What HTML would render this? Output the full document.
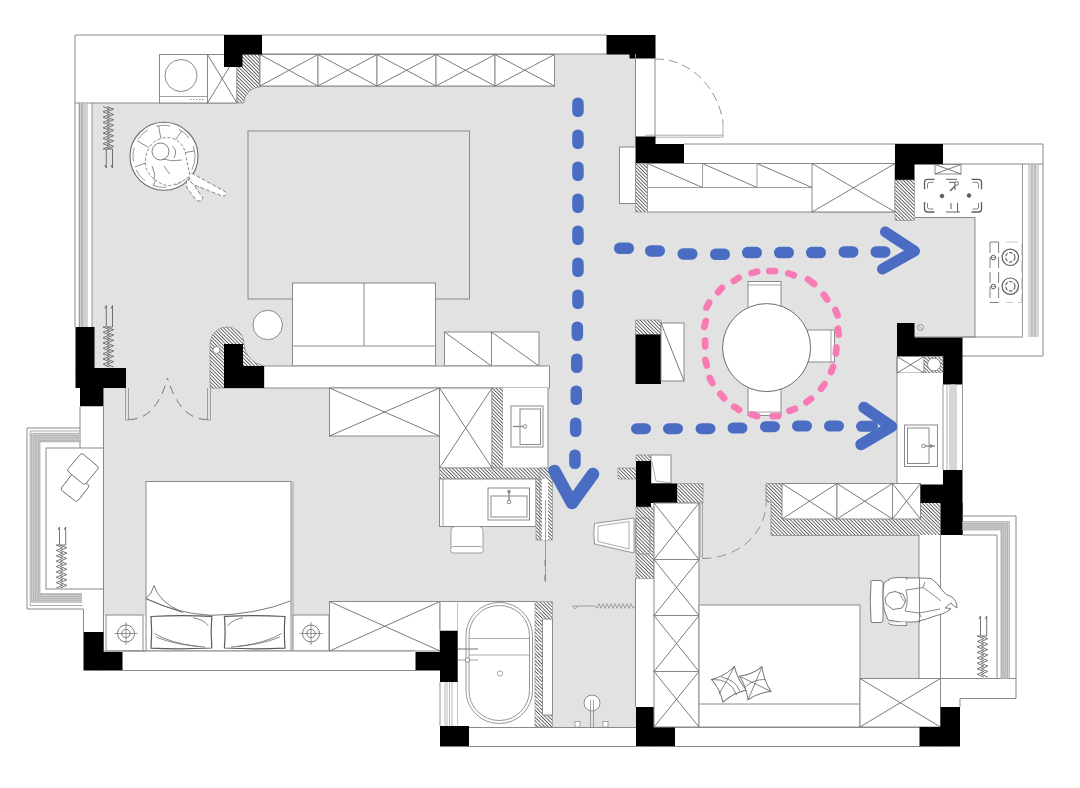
<!DOCTYPE html>
<html><head><meta charset="utf-8"><title>Floor plan</title>
<style>
html,body{margin:0;padding:0;background:#fff;}
body{width:1080px;height:788px;overflow:hidden;font-family:"Liberation Sans",sans-serif;}
svg{display:block;}
</style></head><body>
<svg width="1080" height="788" viewBox="0 0 1080 788">
<defs>
<pattern id="hatch" width="2.5" height="2.5" patternUnits="userSpaceOnUse" patternTransform="rotate(-45)">
<line x1="1.25" y1="0" x2="1.25" y2="2.5" stroke="#555" stroke-width="0.9"/>
</pattern>
</defs>
<rect width="1080" height="788" fill="#fff"/>
<rect x="92" y="103" width="168" height="285" fill="#e2e2e2"/>
<rect x="236" y="86" width="400" height="302" fill="#e2e2e2"/>
<rect x="554.5" y="54" width="81.0" height="36" fill="#e2e2e2"/>
<rect x="635" y="212" width="262" height="272" fill="#e2e2e2"/>
<rect x="895" y="217.5" width="80" height="119.5" fill="#e2e2e2"/>
<rect x="552" y="388" width="84" height="339" fill="#e2e2e2"/>
<rect x="104" y="388" width="448" height="214" fill="#e2e2e2"/>
<rect x="104" y="600" width="226" height="15.5" fill="#e2e2e2"/>
<rect x="699" y="483" width="220" height="196" fill="#e2e2e2"/>
<rect x="760" y="500" width="15" height="40" fill="#e2e2e2"/>
<path d="M75,327 V35 H606.5 M75,103 H236 M262,54 H606.5" fill="none" stroke="#8a8a8a" stroke-width="1.0" />
<line x1="79.3" y1="103" x2="79.3" y2="327" stroke="#8a8a8a" stroke-width="0.7" />
<line x1="82" y1="103" x2="82" y2="327" stroke="#8a8a8a" stroke-width="0.7" />
<line x1="87" y1="103" x2="87" y2="327" stroke="#8a8a8a" stroke-width="0.7" />
<line x1="92" y1="103" x2="92" y2="327" stroke="#8a8a8a" stroke-width="0.9" />
<rect x="79.8" y="103.4" width="7.2" height="223.6" fill="#d0d0d0"/>
<line x1="79.3" y1="103" x2="79.3" y2="327" stroke="#8a8a8a" stroke-width="0.7" />
<line x1="82" y1="103" x2="82" y2="327" stroke="#8a8a8a" stroke-width="0.7" />
<rect x="159.5" y="54.5" width="48.0" height="48.5" fill="#fff" stroke="#8a8a8a" stroke-width="1.0" />
<line x1="159.5" y1="96.5" x2="207.5" y2="96.5" stroke="#8a8a8a" stroke-width="0.8" />
<line x1="190" y1="99.5" x2="205" y2="99.5" stroke="#8a8a8a" stroke-width="1" stroke-dasharray="1.5 1.5"/>
<circle cx="181" cy="75.5" r="16" fill="#fff" stroke="#8a8a8a" stroke-width="1.0" />
<rect x="207.5" y="54.5" width="29.5" height="48.5" fill="#fff" stroke="#8a8a8a" stroke-width="1.0" />
<line x1="207.5" y1="54.5" x2="237" y2="103" stroke="#6c6c6c" stroke-width="0.9" />
<line x1="207.5" y1="103" x2="237" y2="54.5" stroke="#6c6c6c" stroke-width="0.9" />
<path d="M237,54.5 H260 V87 A16,16 0 0 0 244,103 H237 Z" fill="#fff" stroke="none" stroke-width="1.0" />
<path d="M237,54.5 H260 V87 A16,16 0 0 0 244,103 H237 Z" fill="url(#hatch)" stroke="#8a8a8a" stroke-width="0.7" />
<rect x="260" y="54.5" width="294.5" height="31.5" fill="#fff" stroke="#8a8a8a" stroke-width="1.0" />
<rect x="260" y="54.5" width="58" height="31.5" fill="#fff" stroke="#8a8a8a" stroke-width="1.0" />
<line x1="260" y1="54.5" x2="318" y2="86" stroke="#6c6c6c" stroke-width="0.9" />
<line x1="260" y1="86" x2="318" y2="54.5" stroke="#6c6c6c" stroke-width="0.9" />
<rect x="318" y="54.5" width="59" height="31.5" fill="#fff" stroke="#8a8a8a" stroke-width="1.0" />
<line x1="318" y1="54.5" x2="377" y2="86" stroke="#6c6c6c" stroke-width="0.9" />
<line x1="318" y1="86" x2="377" y2="54.5" stroke="#6c6c6c" stroke-width="0.9" />
<rect x="377" y="54.5" width="59" height="31.5" fill="#fff" stroke="#8a8a8a" stroke-width="1.0" />
<line x1="377" y1="54.5" x2="436" y2="86" stroke="#6c6c6c" stroke-width="0.9" />
<line x1="377" y1="86" x2="436" y2="54.5" stroke="#6c6c6c" stroke-width="0.9" />
<rect x="436" y="54.5" width="59" height="31.5" fill="#fff" stroke="#8a8a8a" stroke-width="1.0" />
<line x1="436" y1="54.5" x2="495" y2="86" stroke="#6c6c6c" stroke-width="0.9" />
<line x1="436" y1="86" x2="495" y2="54.5" stroke="#6c6c6c" stroke-width="0.9" />
<rect x="495" y="54.5" width="59.5" height="31.5" fill="#fff" stroke="#8a8a8a" stroke-width="1.0" />
<line x1="495" y1="54.5" x2="554.5" y2="86" stroke="#6c6c6c" stroke-width="0.9" />
<line x1="495" y1="86" x2="554.5" y2="54.5" stroke="#6c6c6c" stroke-width="0.9" />
<rect x="224" y="35" width="38" height="19.5" fill="#000"/>
<rect x="224" y="54" width="18.5" height="13" fill="#000"/>
<rect x="606.5" y="35" width="49.0" height="19.5" fill="#000"/>
<rect x="629.5" y="54" width="26.0" height="4.5" fill="#000"/>
<path d="M635.5,54 V137 M655,58 V137" fill="none" stroke="#8a8a8a" stroke-width="1.0" />
<path d="M645,135.2 H723 M655,137.2 H723 M723,121 V137" fill="none" stroke="#8a8a8a" stroke-width="0.7" />
<path d="M655,59 A68,77 0 0 1 723,122" fill="none" stroke="#8a8a8a" stroke-width="0.9" stroke-dasharray="9 5"/>
<rect x="635.5" y="136.5" width="20.0" height="27.0" fill="#000"/>
<rect x="655" y="144" width="29" height="19.5" fill="#000"/>
<path d="M684,144 H1043 V356 H962.5 M684,163.5 H895 M943,164 H1043 M962.5,337 H1022.5" fill="none" stroke="#8a8a8a" stroke-width="1.0" />
<line x1="1022.5" y1="164" x2="1022.5" y2="337" stroke="#8a8a8a" stroke-width="0.9" />
<line x1="1029" y1="164" x2="1029" y2="337" stroke="#8a8a8a" stroke-width="0.7" />
<line x1="1032" y1="164" x2="1032" y2="337" stroke="#8a8a8a" stroke-width="0.7" />
<line x1="1035" y1="164" x2="1035" y2="337" stroke="#8a8a8a" stroke-width="0.7" />
<line x1="1038" y1="164" x2="1038" y2="337" stroke="#8a8a8a" stroke-width="0.7" />
<rect x="1029.4" y="164.4" width="8.4" height="172.4" fill="#d6d6d6"/>
<line x1="1032" y1="164" x2="1032" y2="337" stroke="#8a8a8a" stroke-width="0.6" />
<line x1="1035" y1="164" x2="1035" y2="337" stroke="#8a8a8a" stroke-width="0.6" />
<line x1="975" y1="217.5" x2="975" y2="337" stroke="#8a8a8a" stroke-width="1.0" />
<line x1="914.5" y1="217.5" x2="975" y2="217.5" stroke="#8a8a8a" stroke-width="1.0" />
<line x1="914" y1="337" x2="975" y2="337" stroke="#8a8a8a" stroke-width="1.0" />
<rect x="619.5" y="147" width="16.0" height="56.5" fill="#fff" stroke="#8a8a8a" stroke-width="1.0" />
<rect x="647.5" y="163.5" width="247.5" height="48.5" fill="#fff" stroke="#8a8a8a" stroke-width="1.0" />
<rect x="635.5" y="163.5" width="12.0" height="48.5" fill="#fff"/>
<rect x="635.5" y="163.5" width="12.0" height="48.5" fill="url(#hatch)" stroke="#8a8a8a" stroke-width="0.6"/>
<line x1="647.5" y1="187.5" x2="812" y2="187.5" stroke="#8a8a8a" stroke-width="0.8" />
<line x1="702.5" y1="163.5" x2="702.5" y2="187.5" stroke="#8a8a8a" stroke-width="0.8" />
<line x1="647.5" y1="163.5" x2="702.5" y2="187.5" stroke="#6c6c6c" stroke-width="0.9" />
<line x1="757" y1="163.5" x2="757" y2="187.5" stroke="#8a8a8a" stroke-width="0.8" />
<line x1="702.5" y1="163.5" x2="757" y2="187.5" stroke="#6c6c6c" stroke-width="0.9" />
<line x1="757" y1="163.5" x2="812" y2="187.5" stroke="#6c6c6c" stroke-width="0.9" />
<rect x="812" y="163.5" width="83" height="48.5" fill="#fff" stroke="#8a8a8a" stroke-width="1.0" />
<line x1="812" y1="163.5" x2="895" y2="212" stroke="#6c6c6c" stroke-width="0.9" />
<line x1="812" y1="212" x2="895" y2="163.5" stroke="#6c6c6c" stroke-width="0.9" />
<rect x="895" y="144" width="48" height="20.5" fill="#000"/>
<rect x="895" y="164" width="19.5" height="16" fill="#000"/>
<rect x="895" y="180" width="19.5" height="40.5" fill="#fff"/>
<rect x="895" y="180" width="19.5" height="40.5" fill="url(#hatch)" stroke="#8a8a8a" stroke-width="0.6"/>
<rect x="935" y="164.5" width="26" height="9.5" fill="#fff" stroke="#8a8a8a" stroke-width="1.0" />
<line x1="935" y1="164.5" x2="961" y2="174" stroke="#6c6c6c" stroke-width="0.9" />
<line x1="935" y1="174" x2="961" y2="164.5" stroke="#6c6c6c" stroke-width="0.9" />
<path d="M934.5,179.3 H927.5 Q924.5,179.3 924.5,182.3 V189.3" fill="none" stroke="#5e5e5e" stroke-width="1.3" />
<path d="M971.5,179.3 H978.5 Q981.5,179.3 981.5,182.3 V189.3" fill="none" stroke="#5e5e5e" stroke-width="1.3" />
<path d="M934.5,212 H927.5 Q924.5,212 924.5,209 V202" fill="none" stroke="#5e5e5e" stroke-width="1.3" />
<path d="M971.5,212 H978.5 Q981.5,212 981.5,209 V202" fill="none" stroke="#5e5e5e" stroke-width="1.3" />
<path d="M933.5,182.3 H929.5 Q927.5,182.3 927.5,184.3 V188.3" fill="none" stroke="#5e5e5e" stroke-width="0.8" />
<path d="M972.5,182.3 H976.5 Q978.5,182.3 978.5,184.3 V188.3" fill="none" stroke="#5e5e5e" stroke-width="0.8" />
<path d="M933.5,209 H929.5 Q927.5,209 927.5,207 V203" fill="none" stroke="#5e5e5e" stroke-width="0.8" />
<path d="M972.5,209 H976.5 Q978.5,209 978.5,207 V203" fill="none" stroke="#5e5e5e" stroke-width="0.8" />
<path d="M946,179.3 H957 M949,182.3 H955 M955,182.3 V190 M946,212 H960 M957.5,212 V203 M951,209 V203" fill="none" stroke="#5e5e5e" stroke-width="1.0" />
<circle cx="942" cy="196" r="1.8" fill="#5e5e5e" stroke="#5e5e5e" stroke-width="1.0" />
<circle cx="969" cy="195.5" r="1.8" fill="#5e5e5e" stroke="#5e5e5e" stroke-width="1.0" />
<line x1="950" y1="191" x2="955" y2="186" stroke="#5e5e5e" stroke-width="1.4" />
<circle cx="956.5" cy="183.5" r="1.8" fill="#fff" stroke="#5e5e5e" stroke-width="1.0" />
<path d="M990,242 V302.5 M998.6,242 V302.5 M990,242 H998.6 M990,302.5 H998.6" fill="none" stroke="#5e5e5e" stroke-width="0.8" stroke-dasharray="11 4"/>
<path d="M1006,242 H1021.7 V302.5 H1006" fill="none" stroke="#bbb" stroke-width="0.8" stroke-dasharray="12 5"/>
<circle cx="1010.3" cy="257.3" r="8.2" fill="#fff" stroke="#5e5e5e" stroke-width="1.2" />
<circle cx="1010.3" cy="257.3" r="4.7" fill="none" stroke="#5e5e5e" stroke-width="1.1" stroke-dasharray="3.5 1.6"/>
<circle cx="993.3" cy="257.6" r="2.3" fill="#fff" stroke="#5e5e5e" stroke-width="1.0" />
<line x1="990.5" y1="257.6" x2="996" y2="257.6" stroke="#5e5e5e" stroke-width="0.6" />
<circle cx="1010.3" cy="286.2" r="8.2" fill="#fff" stroke="#5e5e5e" stroke-width="1.2" />
<circle cx="1010.3" cy="286.2" r="4.7" fill="none" stroke="#5e5e5e" stroke-width="1.1" stroke-dasharray="3.5 1.6"/>
<circle cx="993.3" cy="286.5" r="2.3" fill="#fff" stroke="#5e5e5e" stroke-width="1.0" />
<line x1="990.5" y1="286.5" x2="996" y2="286.5" stroke="#5e5e5e" stroke-width="0.6" />
<rect x="897" y="323" width="17.5" height="15" fill="#000"/>
<rect x="897" y="337.5" width="65.5" height="19.0" fill="#000"/>
<rect x="943" y="356" width="19.5" height="28.5" fill="#000"/>
<circle cx="920.5" cy="327.5" r="3" fill="none" stroke="#8a8a8a" stroke-width="0.8" />
<line x1="918.5" y1="325.5" x2="922.5" y2="329.5" stroke="#8a8a8a" stroke-width="0.7" />
<rect x="897" y="356.5" width="27" height="16.5" fill="#fff" stroke="#8a8a8a" stroke-width="1.0" />
<line x1="897" y1="356.5" x2="924" y2="373" stroke="#6c6c6c" stroke-width="0.9" />
<line x1="897" y1="373" x2="924" y2="356.5" stroke="#6c6c6c" stroke-width="0.9" />
<rect x="924" y="356.5" width="19" height="16.5" fill="#fff"/>
<rect x="924" y="356.5" width="19" height="16.5" fill="url(#hatch)" stroke="#8a8a8a" stroke-width="0.6"/>
<circle cx="934" cy="364.5" r="6.5" fill="#fff" stroke="#8a8a8a" stroke-width="1.0" />
<rect x="897" y="373" width="46" height="111" fill="#fff"/>
<line x1="897" y1="356" x2="897" y2="484" stroke="#8a8a8a" stroke-width="1.0" />
<rect x="904.5" y="425" width="33.0" height="41.5" fill="#fff" stroke="#8a8a8a" stroke-width="1.0" />
<rect x="907.5" y="428" width="21.5" height="35.5" fill="#fff" stroke="#8a8a8a" stroke-width="1.0" />
<line x1="922" y1="446" x2="935" y2="446" stroke="#8a8a8a" stroke-width="1.4" />
<circle cx="923.5" cy="446" r="1.8" fill="#fff" stroke="#8a8a8a" stroke-width="1.0" />
<circle cx="931" cy="446" r="1.3" fill="#8a8a8a" stroke="#8a8a8a" stroke-width="1.0" />
<line x1="943" y1="384.5" x2="943" y2="470" stroke="#8a8a8a" stroke-width="0.9" />
<line x1="947" y1="384.5" x2="947" y2="470" stroke="#8a8a8a" stroke-width="0.7" />
<line x1="950" y1="384.5" x2="950" y2="470" stroke="#8a8a8a" stroke-width="0.7" />
<line x1="953" y1="384.5" x2="953" y2="470" stroke="#8a8a8a" stroke-width="0.7" />
<line x1="956" y1="384.5" x2="956" y2="470" stroke="#8a8a8a" stroke-width="0.7" />
<line x1="962.5" y1="384.5" x2="962.5" y2="470" stroke="#8a8a8a" stroke-width="0.9" />
<rect x="950.3" y="384.5" width="5.4" height="85.5" fill="#d6d6d6"/>
<rect x="635.5" y="320" width="25.5" height="14.5" fill="#fff"/>
<rect x="635.5" y="320" width="25.5" height="14.5" fill="url(#hatch)" stroke="#8a8a8a" stroke-width="0.6"/>
<rect x="635.5" y="334.5" width="25.5" height="49.5" fill="#000"/>
<rect x="661" y="323" width="23" height="58" fill="#fff" stroke="#8a8a8a" stroke-width="1.0" />
<line x1="661" y1="323" x2="684" y2="381" stroke="#6c6c6c" stroke-width="0.9" />
<rect x="748" y="281.5" width="33" height="28.5" fill="#fff" stroke="#8a8a8a" stroke-width="1.0" />
<line x1="748" y1="285" x2="781" y2="285" stroke="#8a8a8a" stroke-width="0.8" />
<rect x="748" y="385" width="33" height="30.5" fill="#fff" stroke="#8a8a8a" stroke-width="1.0" />
<line x1="748" y1="412" x2="781" y2="412" stroke="#8a8a8a" stroke-width="0.8" />
<rect x="800" y="330" width="34.5" height="32" fill="#fff" stroke="#8a8a8a" stroke-width="1.0" />
<line x1="831" y1="330" x2="831" y2="362" stroke="#8a8a8a" stroke-width="0.8" />
<circle cx="766.6" cy="347.6" r="44" fill="#fff" stroke="#6c6c6c" stroke-width="1.0" />
<rect x="248" y="131" width="221.5" height="168" fill="none" stroke="#8a8a8a" stroke-width="1.0" />
<rect x="292.5" y="283" width="143.0" height="83" fill="#fff" stroke="#8a8a8a" stroke-width="1.0" />
<line x1="364" y1="283" x2="364" y2="346" stroke="#8a8a8a" stroke-width="1.0" />
<line x1="292.5" y1="346" x2="435.5" y2="346" stroke="#8a8a8a" stroke-width="1.0" />
<rect x="444.5" y="332" width="47.0" height="34" fill="#fff" stroke="#8a8a8a" stroke-width="1.0" />
<line x1="444.5" y1="332" x2="491.5" y2="366" stroke="#6c6c6c" stroke-width="0.9" />
<rect x="491.5" y="332" width="47.5" height="34" fill="#fff" stroke="#8a8a8a" stroke-width="1.0" />
<line x1="491.5" y1="332" x2="539" y2="366" stroke="#6c6c6c" stroke-width="0.9" />
<circle cx="267.7" cy="325" r="14.7" fill="#fff" stroke="#8a8a8a" stroke-width="1.0" />
<rect x="264" y="366" width="285.5" height="22" fill="#fff"/>
<path d="M264,366 H549.5 V388 H264" fill="none" stroke="#8a8a8a" stroke-width="1.0" />
<path d="M210,388 V344 A17,17 0 0 1 244,344 Q246,362 264,366 V388 Z" fill="#fff" stroke="none" stroke-width="1.0" />
<path d="M210,388 V344 A17,17 0 0 1 244,344 Q246,362 264,366 V388 Z" fill="url(#hatch)" stroke="#8a8a8a" stroke-width="0.7" />
<rect x="224" y="344" width="19" height="44" fill="#000"/>
<rect x="242.5" y="366" width="21.5" height="22" fill="#000"/>
<circle cx="216.5" cy="350" r="3.6" fill="#fff" stroke="#8a8a8a" stroke-width="1.0" />
<rect x="75.5" y="327" width="19.0" height="41.5" fill="#000"/>
<rect x="75.5" y="368" width="50.5" height="20" fill="#000"/>
<rect x="80" y="387.5" width="23.5" height="19.0" fill="#000"/>
<polyline points="106.3,168 106.3,149 103.1,149.0 109.5,146.3 103.1,143.7 109.5,141.0 103.1,138.4 109.5,135.7 103.1,133.1 109.5,130.4 103.1,127.8 109.5,125.1 103.1,122.4 109.5,119.8 103.1,117.1 109.5,114.5 103.1,111.8 109.5,109.2 103.1,106.5" fill="none" stroke="#5a5a5a" stroke-width="0.85" stroke-linejoin="round"/>
<polyline points="104.7,165 106.3,168 " fill="none" stroke="#5a5a5a" stroke-width="0.85"/>
<polyline points="112.5,168 112.5,149 107.1,149.0 113.5,146.3 107.1,143.7 113.5,141.0 107.1,138.4 113.5,135.7 107.1,133.1 113.5,130.4 107.1,127.8 113.5,125.1 107.1,122.4 113.5,119.8 107.1,117.1 113.5,114.5 107.1,111.8 113.5,109.2 107.1,106.5" fill="none" stroke="#5a5a5a" stroke-width="0.85" stroke-linejoin="round"/>
<polyline points="110.9,165 112.5,168 " fill="none" stroke="#5a5a5a" stroke-width="0.85"/>
<polyline points="106.3,305.5 106.3,327 103.1,327.0 109.5,329.7 103.1,332.3 109.5,335.0 103.1,337.7 109.5,340.3 103.1,343.0 109.5,345.7 103.1,348.3 109.5,351.0 103.1,353.7 109.5,356.3 103.1,359.0 109.5,361.7 103.1,364.3 109.5,367.0" fill="none" stroke="#5a5a5a" stroke-width="0.85" stroke-linejoin="round"/>
<polyline points="104.7,308.5 106.3,305.5 " fill="none" stroke="#5a5a5a" stroke-width="0.85"/>
<polyline points="112.5,305.5 112.5,327 107.1,327.0 113.5,329.7 107.1,332.3 113.5,335.0 107.1,337.7 113.5,340.3 107.1,343.0 113.5,345.7 107.1,348.3 113.5,351.0 107.1,353.7 113.5,356.3 107.1,359.0 113.5,361.7 107.1,364.3 113.5,367.0" fill="none" stroke="#5a5a5a" stroke-width="0.85" stroke-linejoin="round"/>
<polyline points="110.9,308.5 112.5,305.5 " fill="none" stroke="#5a5a5a" stroke-width="0.85"/>
<path d="M125.5,388 V420 M128.5,388 V420 M207.5,388 V420 M210.5,388 V420 M125.5,420 H128.5 M207.5,420 H210.5" fill="none" stroke="#8a8a8a" stroke-width="0.8" />
<path d="M128.5,419.5 Q156,420 167.5,378" fill="none" stroke="#6c6c6c" stroke-width="0.9" stroke-dasharray="9 6"/>
<path d="M207.5,419.5 Q180,420 167.5,378" fill="none" stroke="#6c6c6c" stroke-width="0.9" stroke-dasharray="9 6"/>
<rect x="80" y="406.5" width="23.5" height="225.5" fill="#fff"/>
<path d="M80,406.5 V448 M103.5,406.5 V652 M83.5,609 V632" fill="none" stroke="#8a8a8a" stroke-width="1.0" />
<path d="M80,428 H27 V609 H83" fill="none" stroke="#8a8a8a" stroke-width="1.0" />
<path d="M80,431 H30.2 V605.5 H83" fill="none" stroke="#8a8a8a" stroke-width="0.7" />
<path d="M80.5,437.5 H35.6 V598 H82" fill="none" stroke="#d3d3d3" stroke-width="8.8"/>
<path d="M80.5,433.3 H31.400000000000002 V602.2 H82" fill="none" stroke="#9a9a9a" stroke-width="0.6" />
<path d="M80.5,435.3 H33.4 V600.2 H82" fill="none" stroke="#9a9a9a" stroke-width="0.6" />
<path d="M80.5,437.1 H35.2 V598.4 H82" fill="none" stroke="#9a9a9a" stroke-width="0.6" />
<path d="M80.5,438.9 H37.0 V596.6 H82" fill="none" stroke="#9a9a9a" stroke-width="0.6" />
<path d="M80.5,440.7 H38.800000000000004 V594.8 H82" fill="none" stroke="#9a9a9a" stroke-width="0.6" />
<path d="M80.5,441.9 H40.0 V593.6 H82" fill="none" stroke="#9a9a9a" stroke-width="0.6" />
<rect x="46" y="448" width="57.5" height="141" fill="#fff" stroke="#8a8a8a" stroke-width="1.0" />
<g transform="translate(75,487.5) rotate(38)"><rect x="-10.5" y="-10.5" width="21" height="21" rx="2.5" fill="#fff" stroke="#6c6c6c" stroke-width="0.9"/></g>
<g transform="translate(83,469) rotate(40)"><rect x="-11.5" y="-11.5" width="23" height="23" rx="2.5" fill="#fff" stroke="#6c6c6c" stroke-width="0.9"/></g>
<polyline points="59.5,527 59.5,545 56.3,545.0 62.7,547.7 56.3,550.4 62.7,553.1 56.3,555.8 62.7,558.4 56.3,561.1 62.7,563.8 56.3,566.5 62.7,569.2 56.3,571.9 62.7,574.6 56.3,577.2 62.7,579.9 56.3,582.6 62.7,585.3 56.3,588.0" fill="none" stroke="#5a5a5a" stroke-width="0.85" stroke-linejoin="round"/>
<polyline points="57.9,530 59.5,527 " fill="none" stroke="#5a5a5a" stroke-width="0.85"/>
<polyline points="65.7,527 65.7,545 60.3,545.0 66.7,547.7 60.3,550.4 66.7,553.1 60.3,555.8 66.7,558.4 60.3,561.1 66.7,563.8 60.3,566.5 66.7,569.2 60.3,571.9 66.7,574.6 60.3,577.2 66.7,579.9 60.3,582.6 66.7,585.3 60.3,588.0" fill="none" stroke="#5a5a5a" stroke-width="0.85" stroke-linejoin="round"/>
<polyline points="64.10000000000001,530 65.7,527 " fill="none" stroke="#5a5a5a" stroke-width="0.85"/>
<rect x="329.5" y="388" width="110.0" height="48" fill="#fff" stroke="#8a8a8a" stroke-width="1.0" />
<line x1="329.5" y1="388" x2="439.5" y2="436" stroke="#6c6c6c" stroke-width="0.9" />
<line x1="329.5" y1="436" x2="439.5" y2="388" stroke="#6c6c6c" stroke-width="0.9" />
<rect x="439.5" y="388" width="52.5" height="80" fill="#fff" stroke="#8a8a8a" stroke-width="1.0" />
<line x1="439.5" y1="388" x2="492" y2="468" stroke="#6c6c6c" stroke-width="0.9" />
<line x1="439.5" y1="468" x2="492" y2="388" stroke="#6c6c6c" stroke-width="0.9" />
<rect x="492" y="388" width="11" height="80" fill="#fff"/>
<rect x="492" y="388" width="11" height="80" fill="url(#hatch)" stroke="#8a8a8a" stroke-width="0.6"/>
<rect x="503" y="388" width="45" height="80" fill="#fff"/>
<line x1="548" y1="388" x2="548" y2="468" stroke="#8a8a8a" stroke-width="1.0" />
<rect x="439.5" y="468" width="113.0" height="11" fill="#fff"/>
<rect x="439.5" y="468" width="113.0" height="11" fill="url(#hatch)" stroke="#8a8a8a" stroke-width="0.6"/>
<rect x="511" y="406" width="32" height="41" fill="#fff" stroke="#8a8a8a" stroke-width="1.0" />
<rect x="520" y="409" width="20.5" height="35.5" fill="#fff" stroke="#8a8a8a" stroke-width="1.0" />
<line x1="513" y1="426.5" x2="524" y2="426.5" stroke="#8a8a8a" stroke-width="1.4" />
<circle cx="525" cy="426.5" r="1.8" fill="#fff" stroke="#8a8a8a" stroke-width="1.0" />
<rect x="439.5" y="479" width="96.5" height="47.5" fill="#fff" stroke="#8a8a8a" stroke-width="1.0" />
<line x1="443" y1="479" x2="443" y2="526.5" stroke="#8a8a8a" stroke-width="0.8" />
<rect x="488" y="488" width="41.5" height="32" fill="#fff" stroke="#8a8a8a" stroke-width="1.0" />
<rect x="491" y="496" width="36" height="21" fill="#fff" stroke="#8a8a8a" stroke-width="1.0" />
<line x1="509" y1="491" x2="509" y2="502" stroke="#8a8a8a" stroke-width="1.4" />
<circle cx="509" cy="502" r="1.8" fill="#fff" stroke="#8a8a8a" stroke-width="1.0" />
<circle cx="509" cy="491.5" r="1.3" fill="#8a8a8a" stroke="#8a8a8a" stroke-width="1.0" />
<rect x="536" y="479" width="4" height="61" fill="#fff"/>
<rect x="536" y="479" width="4" height="61" fill="url(#hatch)" stroke="#8a8a8a" stroke-width="0.6"/>
<rect x="451" y="526.5" width="32" height="24" rx="4" fill="#fff" stroke="#8a8a8a" stroke-width="0.8"/>
<rect x="450.5" y="546.5" width="33" height="6.5" rx="3" fill="#fff" stroke="#8a8a8a" stroke-width="0.8"/>
<rect x="540" y="468" width="12.5" height="72" fill="#fff"/>
<rect x="540" y="468" width="12.5" height="72" fill="url(#hatch)" stroke="#8a8a8a" stroke-width="0.6"/>
<rect x="542" y="479" width="6" height="61" fill="#fff"/>
<path d="M545.5,500 V582" fill="none" stroke="#8a8a8a" stroke-width="0.8" />
<path d="M545,560 V566 M545,575 V581" fill="none" stroke="#6c6c6c" stroke-width="0.8" />
<rect x="146" y="481.5" width="145" height="169.5" fill="#fff" stroke="#8a8a8a" stroke-width="1.0" />
<line x1="293" y1="481.5" x2="293" y2="651" stroke="#8a8a8a" stroke-width="0.7" />
<path d="M146,598.5 Q176,613.5 211,615.3 Q255,615 290.5,601" fill="none" stroke="#6c6c6c" stroke-width="0.9" />
<path d="M146,598.5 Q152,594 154,585.5 Q159,602 181,611.5 M146.5,599 Q163,606 183,612.5" fill="none" stroke="#6c6c6c" stroke-width="0.9" />
<path d="M151,616.5 Q180,615 211.8,616.3 Q210.5,632 211.8,648 Q180,649.5 151,648.2 Q152.3,632 151,616.5 Z" fill="#fff" stroke="#5a5a5a" stroke-width="1.2" />
<path d="M224.4,616.3 Q255,615 285,616.5 Q283.7,632 285,648.2 Q255,649.5 224.4,648 Q225.7,632 224.4,616.3 Z" fill="#fff" stroke="#5a5a5a" stroke-width="1.2" />
<path d="M154.5,633.5 Q170,643 198,646.5 M156,637 Q175,645 205,647 M193,617.8 Q203,619 208.5,626" fill="none" stroke="#6c6c6c" stroke-width="0.8" />
<path d="M281.5,633.5 Q266,643 238,646.5 M280,637 Q261,645 231,647 M243,617.8 Q233,619 227.5,626" fill="none" stroke="#6c6c6c" stroke-width="0.8" />
<rect x="106" y="615" width="37" height="36" fill="#fff" stroke="#8a8a8a" stroke-width="1.0" />
<circle cx="126" cy="633.5" r="8.5" fill="none" stroke="#6c6c6c" stroke-width="0.9" />
<circle cx="126" cy="633.5" r="4.2" fill="none" stroke="#6c6c6c" stroke-width="0.9" />
<line x1="114.5" y1="633.5" x2="137.5" y2="633.5" stroke="#6c6c6c" stroke-width="0.7" />
<line x1="126" y1="622" x2="126" y2="645" stroke="#6c6c6c" stroke-width="0.7" />
<rect x="293" y="615" width="36" height="36" fill="#fff" stroke="#8a8a8a" stroke-width="1.0" />
<circle cx="311" cy="633.5" r="8.5" fill="none" stroke="#6c6c6c" stroke-width="0.9" />
<circle cx="311" cy="633.5" r="4.2" fill="none" stroke="#6c6c6c" stroke-width="0.9" />
<line x1="299.5" y1="633.5" x2="322.5" y2="633.5" stroke="#6c6c6c" stroke-width="0.7" />
<line x1="311" y1="622" x2="311" y2="645" stroke="#6c6c6c" stroke-width="0.7" />
<rect x="329.5" y="601.5" width="110.5" height="49.5" fill="#fff" stroke="#8a8a8a" stroke-width="1.0" />
<line x1="329.5" y1="601.5" x2="440" y2="651" stroke="#6c6c6c" stroke-width="0.9" />
<line x1="329.5" y1="651" x2="440" y2="601.5" stroke="#6c6c6c" stroke-width="0.9" />
<rect x="122" y="651" width="294" height="19.5" fill="#fff"/>
<path d="M122.5,651 H415.5 M122.5,670.5 H415.5 M103.5,651 H146" fill="none" stroke="#8a8a8a" stroke-width="1.0" />
<rect x="83.5" y="632" width="20.0" height="38.5" fill="#000"/>
<rect x="103" y="652" width="19.5" height="18.5" fill="#000"/>
<rect x="415.5" y="652" width="25.0" height="18.5" fill="#000"/>
<rect x="440" y="630.5" width="18" height="51.5" fill="#000"/>
<rect x="440" y="601.5" width="18" height="29.0" fill="#fff"/>
<path d="M440,601.5 V630.5 M458,601.5 V727 M329.5,601.5 H535" fill="none" stroke="#8a8a8a" stroke-width="1.0" />
<rect x="458" y="602" width="77" height="125" fill="#fff"/>
<line x1="440" y1="682" x2="440" y2="726" stroke="#8a8a8a" stroke-width="0.9" />
<line x1="445" y1="682" x2="445" y2="726" stroke="#8a8a8a" stroke-width="0.6" />
<line x1="447" y1="682" x2="447" y2="726" stroke="#8a8a8a" stroke-width="0.6" />
<line x1="449.5" y1="682" x2="449.5" y2="726" stroke="#8a8a8a" stroke-width="0.6" />
<line x1="452" y1="682" x2="452" y2="726" stroke="#8a8a8a" stroke-width="0.6" />
<rect x="440" y="726" width="29" height="20.5" fill="#000"/>
<path d="M469,727.5 H636 M469,746.5 H636" fill="none" stroke="#8a8a8a" stroke-width="1.0" />
<rect x="466" y="602.5" width="66.5" height="121" rx="33" fill="#fff" stroke="#8a8a8a" stroke-width="0.9"/>
<rect x="469" y="605.5" width="60.5" height="115" rx="30" fill="#fff" stroke="#8a8a8a" stroke-width="0.9"/>
<line x1="469" y1="638.5" x2="529.5" y2="638.5" stroke="#8a8a8a" stroke-width="0.7" />
<line x1="469" y1="655" x2="529.5" y2="655" stroke="#8a8a8a" stroke-width="0.7" />
<circle cx="500" cy="673.5" r="2.6" fill="#fff" stroke="#8a8a8a" stroke-width="0.8" />
<line x1="458" y1="649" x2="478" y2="649" stroke="#8a8a8a" stroke-width="1.2" />
<line x1="458" y1="660" x2="478" y2="660" stroke="#8a8a8a" stroke-width="0.8" />
<circle cx="467.5" cy="660" r="2.2" fill="#fff" stroke="#8a8a8a" stroke-width="1.0" />
<rect x="535" y="601.5" width="17.5" height="125.5" fill="#fff"/>
<rect x="535" y="601.5" width="17.5" height="125.5" fill="url(#hatch)" stroke="#8a8a8a" stroke-width="0.6"/>
<rect x="542.5" y="619" width="10.0" height="96" fill="#fff" stroke="#8a8a8a" stroke-width="1.0" />
<line x1="535" y1="611" x2="542.5" y2="611" stroke="#fff" stroke-width="0.7" />
<line x1="535" y1="619" x2="542.5" y2="619" stroke="#fff" stroke-width="0.7" />
<line x1="535" y1="627" x2="542.5" y2="627" stroke="#fff" stroke-width="0.7" />
<line x1="535" y1="635" x2="542.5" y2="635" stroke="#fff" stroke-width="0.7" />
<line x1="535" y1="643" x2="542.5" y2="643" stroke="#fff" stroke-width="0.7" />
<line x1="535" y1="651" x2="542.5" y2="651" stroke="#fff" stroke-width="0.7" />
<line x1="535" y1="659" x2="542.5" y2="659" stroke="#fff" stroke-width="0.7" />
<line x1="535" y1="667" x2="542.5" y2="667" stroke="#fff" stroke-width="0.7" />
<line x1="535" y1="675" x2="542.5" y2="675" stroke="#fff" stroke-width="0.7" />
<line x1="535" y1="683" x2="542.5" y2="683" stroke="#fff" stroke-width="0.7" />
<line x1="535" y1="691" x2="542.5" y2="691" stroke="#fff" stroke-width="0.7" />
<line x1="535" y1="699" x2="542.5" y2="699" stroke="#fff" stroke-width="0.7" />
<line x1="535" y1="707" x2="542.5" y2="707" stroke="#fff" stroke-width="0.7" />
<line x1="535" y1="715" x2="542.5" y2="715" stroke="#fff" stroke-width="0.7" />
<line x1="535" y1="723" x2="542.5" y2="723" stroke="#fff" stroke-width="0.7" />
<path d="M572.5,606 H595 L597,608.3 L599,603.7 L601,608.3 L603,603.7 L605,608.3 L607,603.7 L609,608.3 L611,603.7 L613,608.3 L615,603.7 L617,608.3 L619,603.7 L621,608.3 L623,603.7 L625,608.3 L627,603.7 L629,608.3 L631,603.7 L633,608.3 L635,606" fill="none" stroke="#8a8a8a" stroke-width="0.8" />
<path d="M572.5,606 L575,609 L578,606" fill="none" stroke="#8a8a8a" stroke-width="0.7" />
<circle cx="592" cy="703" r="8" fill="#fff" stroke="#8a8a8a" stroke-width="1.0" />
<path d="M590.5,700 V727 M593.5,700 V727" fill="none" stroke="#8a8a8a" stroke-width="0.8" />
<rect x="575" y="721.5" width="5" height="5.5" fill="#fff" stroke="#8a8a8a" stroke-width="0.7" />
<rect x="603" y="721.5" width="5" height="5.5" fill="#fff" stroke="#8a8a8a" stroke-width="0.7" />
<rect x="635.5" y="578.5" width="18.5" height="128.5" fill="#fff"/>
<path d="M635.5,578.5 V707" fill="none" stroke="#8a8a8a" stroke-width="1.0" />
<rect x="636" y="707" width="18" height="39.5" fill="#000"/>
<rect x="653.5" y="727" width="21.5" height="19.5" fill="#000"/>
<path d="M675,727.5 H920 M675,746.5 H920" fill="none" stroke="#8a8a8a" stroke-width="1.0" />
<rect x="618" y="468" width="18" height="11" fill="#fff"/>
<rect x="618" y="468" width="18" height="11" fill="url(#hatch)" stroke="#8a8a8a" stroke-width="0.6"/>
<rect x="636" y="455" width="15" height="6.5" fill="#fff"/>
<rect x="636" y="455" width="15" height="6.5" fill="url(#hatch)" stroke="#8a8a8a" stroke-width="0.6"/>
<rect x="651" y="455" width="20" height="28.5" fill="#fff" stroke="#8a8a8a" stroke-width="1.0" />
<path d="M652,462 L656,481 L671,483" fill="none" stroke="#8a8a8a" stroke-width="0.7" />
<rect x="677" y="483.5" width="26" height="19.5" fill="#fff"/>
<rect x="677" y="483.5" width="26" height="19.5" fill="url(#hatch)" stroke="#8a8a8a" stroke-width="0.6"/>
<rect x="636" y="461" width="15" height="46" fill="#000"/>
<rect x="650.5" y="483.5" width="26.5" height="19.5" fill="#000"/>
<rect x="636" y="507" width="18" height="71.5" fill="#fff"/>
<rect x="636" y="507" width="18" height="71.5" fill="url(#hatch)" stroke="#8a8a8a" stroke-width="0.6"/>
<rect x="635.5" y="518" width="14.5" height="36" rx="3" fill="none" stroke="#8a8a8a" stroke-width="0.8"/>
<path d="M594.5,523.5 L634,518 V553 L594.5,544 Q593,534 594.5,523.5 Z" fill="#fff" stroke="#8a8a8a" stroke-width="0.9" />
<path d="M598,526 L629,521.5 V549 L598,541.5 Z" fill="#fff" stroke="#8a8a8a" stroke-width="0.7" />
<rect x="654" y="503" width="45" height="224" fill="#fff"/>
<rect x="654" y="503" width="45" height="56.5" fill="#fff" stroke="#8a8a8a" stroke-width="1.0" />
<line x1="654" y1="503" x2="699" y2="559.5" stroke="#6c6c6c" stroke-width="0.9" />
<line x1="654" y1="559.5" x2="699" y2="503" stroke="#6c6c6c" stroke-width="0.9" />
<rect x="654" y="559.5" width="45" height="56.0" fill="#fff" stroke="#8a8a8a" stroke-width="1.0" />
<line x1="654" y1="559.5" x2="699" y2="615.5" stroke="#6c6c6c" stroke-width="0.9" />
<line x1="654" y1="615.5" x2="699" y2="559.5" stroke="#6c6c6c" stroke-width="0.9" />
<rect x="654" y="615.5" width="45" height="56.0" fill="#fff" stroke="#8a8a8a" stroke-width="1.0" />
<line x1="654" y1="615.5" x2="699" y2="671.5" stroke="#6c6c6c" stroke-width="0.9" />
<line x1="654" y1="671.5" x2="699" y2="615.5" stroke="#6c6c6c" stroke-width="0.9" />
<rect x="654" y="671.5" width="45" height="55.5" fill="#fff" stroke="#8a8a8a" stroke-width="1.0" />
<line x1="654" y1="671.5" x2="699" y2="727" stroke="#6c6c6c" stroke-width="0.9" />
<line x1="654" y1="727" x2="699" y2="671.5" stroke="#6c6c6c" stroke-width="0.9" />
<path d="M702.5,503 V558 M700,503 V558" fill="none" stroke="#8a8a8a" stroke-width="0.7" />
<path d="M702.5,558.5 A63.5,55.5 0 0 0 766,503" fill="none" stroke="#8a8a8a" stroke-width="0.9" stroke-dasharray="9 6"/>
<rect x="766" y="483.5" width="16" height="18.5" fill="#fff"/>
<rect x="766" y="483.5" width="16" height="18.5" fill="url(#hatch)" stroke="none" stroke-width="0.6"/>
<rect x="771" y="502" width="11" height="33.5" fill="#fff"/>
<rect x="771" y="502" width="11" height="33.5" fill="url(#hatch)" stroke="none" stroke-width="0.6"/>
<rect x="771" y="519" width="169.5" height="16.5" fill="#fff"/>
<rect x="771" y="519" width="169.5" height="16.5" fill="url(#hatch)" stroke="none" stroke-width="0.6"/>
<rect x="920.5" y="503" width="20.0" height="16" fill="#fff"/>
<rect x="920.5" y="503" width="20.0" height="16" fill="url(#hatch)" stroke="none" stroke-width="0.6"/>
<path d="M766,483.5 V502 H771 V535.5 H940.5 M766,483.5 H920.5" fill="none" stroke="#8a8a8a" stroke-width="0.8" />
<rect x="782" y="483.5" width="55" height="35.5" fill="#fff" stroke="#8a8a8a" stroke-width="1.0" />
<line x1="782" y1="483.5" x2="837" y2="519" stroke="#6c6c6c" stroke-width="0.9" />
<line x1="782" y1="519" x2="837" y2="483.5" stroke="#6c6c6c" stroke-width="0.9" />
<rect x="837" y="483.5" width="55.5" height="35.5" fill="#fff" stroke="#8a8a8a" stroke-width="1.0" />
<line x1="837" y1="483.5" x2="892.5" y2="519" stroke="#6c6c6c" stroke-width="0.9" />
<line x1="837" y1="519" x2="892.5" y2="483.5" stroke="#6c6c6c" stroke-width="0.9" />
<rect x="892.5" y="483.5" width="28.0" height="35.5" fill="#fff" stroke="#8a8a8a" stroke-width="1.0" />
<line x1="892.5" y1="483.5" x2="920.5" y2="519" stroke="#6c6c6c" stroke-width="0.9" />
<line x1="892.5" y1="519" x2="920.5" y2="483.5" stroke="#6c6c6c" stroke-width="0.9" />
<rect x="943" y="470" width="19.5" height="65" fill="#000"/>
<rect x="920.5" y="484.5" width="23.0" height="18.5" fill="#000"/>
<rect x="940.5" y="502.5" width="22.0" height="32.5" fill="#000"/>
<rect x="919" y="535" width="21.5" height="144" fill="#fff"/>
<path d="M919,535 V678.5 M940.5,535 V678.5" fill="none" stroke="#8a8a8a" stroke-width="1.0" />
<rect x="699" y="605" width="161" height="122" fill="#fff" stroke="#8a8a8a" stroke-width="1.0" />
<line x1="699" y1="704" x2="860" y2="704" stroke="#8a8a8a" stroke-width="1.0" />
<rect x="860" y="678.5" width="80.5" height="48.5" fill="#fff" stroke="#8a8a8a" stroke-width="1.0" />
<line x1="860" y1="678.5" x2="940.5" y2="727" stroke="#6c6c6c" stroke-width="0.9" />
<line x1="860" y1="727" x2="940.5" y2="678.5" stroke="#6c6c6c" stroke-width="0.9" />
<g transform="translate(728.7,684.3) rotate(-27) scale(1.1)" fill="#fff" stroke="#6c6c6c" stroke-width="0.85"><path d="M-12,-11 Q0,-8 12,-12 Q9,0 12,12 Q0,9 -12,12 Q-9,0 -12,-11 Z"/><path d="M-12,-11 Q4,-4 2,12 M12,-12 Q-2,-2 -12,4 M-3,-9 Q8,0 6,10" fill="none" stroke-width="0.7"/></g>
<g transform="translate(755,683.3) rotate(-20) scale(1.02,1.1)" fill="#fff" stroke="#6c6c6c" stroke-width="0.85"><path d="M-12,-11 Q0,-8 12,-12 Q9,0 12,12 Q0,9 -12,12 Q-9,0 -12,-11 Z"/><path d="M-12,-11 L12,12 M12,-12 L-12,12 M-10,0 Q0,-4 11,0" fill="none" stroke-width="0.7"/></g>
<rect x="940.5" y="707" width="19.5" height="39.5" fill="#000"/>
<rect x="919.5" y="727" width="21.5" height="19.5" fill="#000"/>
<path d="M962.5,516 H1016 V698.5 H960 V707 M940.5,678.5 H1016 M962.5,535 H997 V678.5" fill="none" stroke="#8a8a8a" stroke-width="1.0" />
<path d="M962.5,525.8 H1005.2 V678.5" fill="none" stroke="#d3d3d3" stroke-width="8.6"/>
<path d="M962.5,521.5 H1009.5 V678.5" fill="none" stroke="#9a9a9a" stroke-width="0.6" />
<path d="M962.5,523.5 H1007.5 V678.5" fill="none" stroke="#9a9a9a" stroke-width="0.6" />
<path d="M962.5,525.3 H1005.7 V678.5" fill="none" stroke="#9a9a9a" stroke-width="0.6" />
<path d="M962.5,527.0999999999999 H1003.9000000000001 V678.5" fill="none" stroke="#9a9a9a" stroke-width="0.6" />
<path d="M962.5,528.9 H1002.1 V678.5" fill="none" stroke="#9a9a9a" stroke-width="0.6" />
<path d="M962.5,530.0999999999999 H1000.9000000000001 V678.5" fill="none" stroke="#9a9a9a" stroke-width="0.6" />
<polyline points="980.5,616 980.5,636 977.3,636.0 983.7,638.7 977.3,641.5 983.7,644.2 977.3,646.9 983.7,649.7 977.3,652.4 983.7,655.1 977.3,657.9 983.7,660.6 977.3,663.3 983.7,666.1 977.3,668.8 983.7,671.5 977.3,674.3 983.7,677.0" fill="none" stroke="#5a5a5a" stroke-width="0.85" stroke-linejoin="round"/>
<polyline points="978.9,619 980.5,616 " fill="none" stroke="#5a5a5a" stroke-width="0.85"/>
<polyline points="986.7,616 986.7,636 981.3,636.0 987.7,638.7 981.3,641.5 987.7,644.2 981.3,646.9 987.7,649.7 981.3,652.4 987.7,655.1 981.3,657.9 987.7,660.6 981.3,663.3 987.7,666.1 981.3,668.8 987.7,671.5 981.3,674.3 987.7,677.0" fill="none" stroke="#5a5a5a" stroke-width="0.85" stroke-linejoin="round"/>
<polyline points="985.1,619 986.7,616 " fill="none" stroke="#5a5a5a" stroke-width="0.85"/>
<path d="M871,583 Q869,581 873,580.5 H881 Q883.5,581 883,584 V619 Q883.5,622.5 881,622.5 H873 Q870,622.5 871,620 Q869.5,601 871,583 Z" fill="#fff" stroke="#6c6c6c" stroke-width="0.9" />
<path d="M884,583 Q890,577 905,578 Q920,577.5 931,578.5 Q938,583 942,590 Q945,595 952,597 Q957,601 957,608 Q953,606 951,603 Q948,605 945,608 Q950,608 951,609 Q945,614 935,616 Q925,620 915,622 Q900,623 888,620 Q883,610 883,600 Q883,590 884,583 Z" fill="#fff" stroke="#6c6c6c" stroke-width="0.9" />
<path d="M888,580 Q890,577 907,577.5 L906,580 M888,623 Q890,626 907,625.5 L906,622" fill="#fff" stroke="#6c6c6c" stroke-width="0.8" />
<path d="M906,590 L923,587.5 L925,582 M923,587.5 Q935,596 941,601 M906,590 Q909,601 905,611 L919,613 L921,617 M919,613 Q930,611 940,609" fill="none" stroke="#6c6c6c" stroke-width="0.8" />
<path d="M889,593 L895,591.5 L903,594 L906,601 L902,608 L893,609.5 L886,604 L885,598 Z" fill="#fff" stroke="#6c6c6c" stroke-width="0.9" />
<path d="M899.5,593 Q902,599 905,602" fill="none" stroke="#6c6c6c" stroke-width="0.8" />
<line x1="919.5" y1="578" x2="919.5" y2="623" stroke="#6c6c6c" stroke-width="0.8" />
<circle cx="164" cy="156.3" r="34" fill="#fff" stroke="#6c6c6c" stroke-width="1.1" />
<circle cx="164" cy="156.3" r="31" fill="none" stroke="#6c6c6c" stroke-width="0.7" stroke-dasharray="14 9"/>
<line x1="148.4" y1="147.3" x2="137.2" y2="140.8" stroke="#6c6c6c" stroke-width="0.8" />
<line x1="160.9" y1="138.6" x2="158.6" y2="125.8" stroke="#6c6c6c" stroke-width="0.8" />
<line x1="174.3" y1="141.6" x2="181.8" y2="130.9" stroke="#6c6c6c" stroke-width="0.8" />
<line x1="181.7" y1="153.2" x2="194.5" y2="150.9" stroke="#6c6c6c" stroke-width="0.8" />
<line x1="147.1" y1="162.5" x2="134.9" y2="166.9" stroke="#6c6c6c" stroke-width="0.8" />
<line x1="157.8" y1="173.2" x2="153.4" y2="185.4" stroke="#6c6c6c" stroke-width="0.8" />
<path d="M186,170 L226,192 Q228,196 222,196 L192,184 Z" fill="#fff" stroke="#6c6c6c" stroke-width="0.8" stroke-dasharray="4 2"/>
<path d="M186,178 L193,184 L203,198 Q201,203 196,200 L187,188 Z" fill="#fff" stroke="#6c6c6c" stroke-width="0.8" stroke-dasharray="4 2"/>
<path d="M150,146 Q158,136 172,138 Q184,142 186,156 L190,176 Q180,184 168,186 Q152,182 146,168 Q144,156 150,146 Z" fill="#fff" stroke="#6c6c6c" stroke-width="0.8" stroke-dasharray="3 2"/>
<circle cx="160.5" cy="151.5" r="8.5" fill="#fff" stroke="#6c6c6c" stroke-width="0.9" />
<path d="M163,159 Q172,162 182,160 M152,166 Q156,174 154,180 M164,166 Q168,172 170,174 M172,146 Q178,150 174,158" fill="none" stroke="#6c6c6c" stroke-width="0.8" />
<line x1="751.6" y1="273.1" x2="757.2" y2="271.5" stroke="#f87bb6" stroke-width="6.7" stroke-linecap="round"/>
<line x1="769.3" y1="271.0" x2="775.1" y2="271.0" stroke="#f87bb6" stroke-width="6.7" stroke-linecap="round"/>
<line x1="788.3" y1="273.4" x2="793.8" y2="275.2" stroke="#f87bb6" stroke-width="6.7" stroke-linecap="round"/>
<line x1="808.0" y1="279.4" x2="814.1" y2="283.9" stroke="#f87bb6" stroke-width="6.7" stroke-linecap="round"/>
<line x1="823.8" y1="294.8" x2="827.2" y2="299.5" stroke="#f87bb6" stroke-width="6.7" stroke-linecap="round"/>
<line x1="835.5" y1="310.0" x2="837.6" y2="315.4" stroke="#f87bb6" stroke-width="6.7" stroke-linecap="round"/>
<line x1="837.9" y1="328.7" x2="838.8" y2="334.5" stroke="#f87bb6" stroke-width="6.7" stroke-linecap="round"/>
<line x1="836.4" y1="347.6" x2="835.9" y2="353.4" stroke="#f87bb6" stroke-width="6.7" stroke-linecap="round"/>
<line x1="833.1" y1="366.6" x2="831.1" y2="372.1" stroke="#f87bb6" stroke-width="6.7" stroke-linecap="round"/>
<line x1="824.5" y1="384.1" x2="821.1" y2="388.8" stroke="#f87bb6" stroke-width="6.7" stroke-linecap="round"/>
<line x1="811.1" y1="398.7" x2="806.5" y2="402.2" stroke="#f87bb6" stroke-width="6.7" stroke-linecap="round"/>
<line x1="794.9" y1="408.8" x2="789.4" y2="410.8" stroke="#f87bb6" stroke-width="6.7" stroke-linecap="round"/>
<line x1="778.4" y1="415.8" x2="772.6" y2="416.2" stroke="#f87bb6" stroke-width="6.7" stroke-linecap="round"/>
<line x1="757.2" y1="416.1" x2="751.6" y2="414.5" stroke="#f87bb6" stroke-width="6.7" stroke-linecap="round"/>
<line x1="739.1" y1="409.8" x2="734.2" y2="406.7" stroke="#f87bb6" stroke-width="6.7" stroke-linecap="round"/>
<line x1="724.1" y1="398.2" x2="720.3" y2="393.9" stroke="#f87bb6" stroke-width="6.7" stroke-linecap="round"/>
<line x1="712.4" y1="383.1" x2="709.8" y2="377.9" stroke="#f87bb6" stroke-width="6.7" stroke-linecap="round"/>
<line x1="706.7" y1="365.5" x2="705.3" y2="359.9" stroke="#f87bb6" stroke-width="6.7" stroke-linecap="round"/>
<line x1="705.1" y1="346.3" x2="705.1" y2="340.5" stroke="#f87bb6" stroke-width="6.7" stroke-linecap="round"/>
<line x1="704.4" y1="326.7" x2="705.8" y2="321.0" stroke="#f87bb6" stroke-width="6.7" stroke-linecap="round"/>
<line x1="706.5" y1="307.6" x2="709.1" y2="302.4" stroke="#f87bb6" stroke-width="6.7" stroke-linecap="round"/>
<line x1="718.1" y1="292.3" x2="721.9" y2="287.9" stroke="#f87bb6" stroke-width="6.7" stroke-linecap="round"/>
<line x1="733.8" y1="281.0" x2="738.6" y2="277.8" stroke="#f87bb6" stroke-width="6.7" stroke-linecap="round"/>
<rect x="572.2" y="97.5" width="11.5" height="19.5" rx="5.5" fill="#4a6dc3"/>
<rect x="572.2" y="129.5" width="11.5" height="19.5" rx="5.5" fill="#4a6dc3"/>
<rect x="572.2" y="161.5" width="11.5" height="19.5" rx="5.5" fill="#4a6dc3"/>
<rect x="572.2" y="193.5" width="11.5" height="19.5" rx="5.5" fill="#4a6dc3"/>
<rect x="572.2" y="225.5" width="11.5" height="19.5" rx="5.5" fill="#4a6dc3"/>
<rect x="572.2" y="257.5" width="11.5" height="19.5" rx="5.5" fill="#4a6dc3"/>
<rect x="572.2" y="289.5" width="11.5" height="19.5" rx="5.5" fill="#4a6dc3"/>
<rect x="571.6" y="321.5" width="11.5" height="19.5" rx="5.5" fill="#4a6dc3"/>
<rect x="571.0" y="353.5" width="11.5" height="19.5" rx="5.5" fill="#4a6dc3"/>
<rect x="570.5" y="385.5" width="11.5" height="19.5" rx="5.5" fill="#4a6dc3"/>
<rect x="569.9" y="417.5" width="11.5" height="19.5" rx="5.5" fill="#4a6dc3"/>
<rect x="569.2" y="449.5" width="11.5" height="19.5" rx="5.5" fill="#4a6dc3"/>
<path d="M554.5,471 L572,503 L593,474" fill="none" stroke="#4a6dc3" stroke-width="12.5" stroke-linecap="round" stroke-linejoin="round"/>
<rect x="614" y="242.6" width="20" height="11.5" rx="5.7" fill="#4a6dc3"/>
<rect x="645" y="245.2" width="20" height="11.5" rx="5.7" fill="#4a6dc3"/>
<rect x="677.5" y="248.2" width="20" height="11.5" rx="5.7" fill="#4a6dc3"/>
<rect x="710" y="248.6" width="20" height="11.5" rx="5.7" fill="#4a6dc3"/>
<rect x="742" y="246.8" width="20" height="11.5" rx="5.7" fill="#4a6dc3"/>
<rect x="774" y="246.8" width="20" height="11.5" rx="5.7" fill="#4a6dc3"/>
<rect x="806" y="246.8" width="20" height="11.5" rx="5.7" fill="#4a6dc3"/>
<rect x="838.5" y="246.2" width="20" height="11.5" rx="5.7" fill="#4a6dc3"/>
<rect x="870.5" y="246.2" width="20" height="11.5" rx="5.7" fill="#4a6dc3"/>
<path d="M885.5,232 L914.5,251 L882.5,269" fill="none" stroke="#4a6dc3" stroke-width="11" stroke-linecap="round" stroke-linejoin="round"/>
<rect x="631" y="423.2" width="20" height="11" rx="5.7" fill="#4a6dc3"/>
<rect x="663" y="423.2" width="20" height="11" rx="5.7" fill="#4a6dc3"/>
<rect x="695.5" y="423.2" width="20" height="11" rx="5.7" fill="#4a6dc3"/>
<rect x="727.5" y="422.5" width="20" height="11" rx="5.7" fill="#4a6dc3"/>
<rect x="760" y="421.2" width="20" height="11" rx="5.7" fill="#4a6dc3"/>
<rect x="792" y="420.5" width="20" height="11" rx="5.7" fill="#4a6dc3"/>
<rect x="824" y="420.5" width="20" height="11" rx="5.7" fill="#4a6dc3"/>
<rect x="856" y="420.8" width="22" height="11" rx="5.7" fill="#4a6dc3"/>
<path d="M864,407.5 L891.5,426.5 L861,444.5" fill="none" stroke="#4a6dc3" stroke-width="11.5" stroke-linecap="round" stroke-linejoin="round"/>
</svg>
</body></html>
